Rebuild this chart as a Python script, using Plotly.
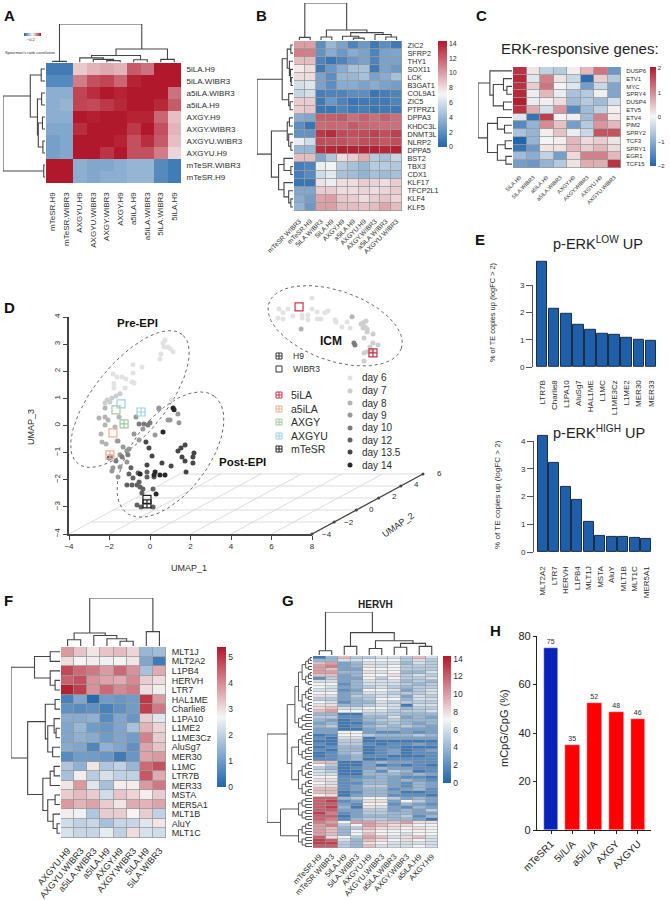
import math
import plotly.graph_objects as go

W, H = 670, 900
FONT = "Liberation Sans"
INK = "#2c2c2c"
DIVERGING = [[0, "#2166ac"], [0.5, "#f6f6f6"], [1, "#b2182b"]]

# ---------- Panel A ----------
A_COLS = ["mTeSR.H9", "mTeSR.WIBR3", "AXGYU.H9", "AXGYU.WIBR3", "AXGY.WIBR3", "AXGY.H9", "a5iLA.H9", "a5iLA.WIBR3", "5iLA.WIBR3", "5iLA.H9"]
A_ROWS = ["5iLA.H9", "5iLA.WIBR3", "a5iLA.WIBR3", "a5iLA.H9", "AXGY.H9", "AXGY.WIBR3", "AXGYU.WIBR3", "AXGYU.H9", "mTeSR.WIBR3", "mTeSR.H9"]
A_Z = [
    [-.85, -.85, .2, .3, .35, .3, .7, .6, 1, 1],
    [-.75, -.75, .55, .75, .8, .65, .95, 1, 1, 1],
    [-.5, -.5, .8, .9, 1, .95, 1, 1, 1, .6],
    [-.5, -.45, .8, .78, .85, .93, 1, 1, .93, .7],
    [-.5, -.5, 1, .97, 1, 1, .95, .95, .65, .25],
    [-.55, -.55, .9, 1, 1, 1, .85, 1, .75, .3],
    [-.6, -.55, 1, 1, 1, .95, .75, .9, .7, .25],
    [-.6, -.55, 1, 1, .87, 1, .75, .75, .55, .15],
    [1, 1, -.5, -.55, -.55, -.5, -.45, -.45, -.75, -.85],
    [1, 1, -.5, -.55, -.5, -.5, -.45, -.45, -.75, -.85],
]
A_COL_TREE = [1.0, [.03, 0, 1], [.35, [.18, [.12, 2, [.08, 3, [.05, 4, 5]]], [.07, 6, 7]], [.08, 8, 9]]]
A_ROW_TREE = [1, [.35, [.09, 0, 1], [.18, [.08, 2, 3], [.16, [.06, 4, 5], [.05, 6, 7]]]], [.03, 8, 9]]

# ---------- Panel B ----------
B_COLS = ["mTeSR.WIBR3", "mTeSR.H9", "5iLA.WIBR3", "5iLA.H9", "AXGY.H9", "a5iLA.H9", "AXGYU.H9", "AXGY.WIBR3", "a5iLA.WIBR3", "AXGYU.WIBR3"]
B_ROWS = ["ZIC2", "SFRP2", "THY1", "SOX11", "LCK", "B3GAT1", "COL9A1", "ZIC5", "PTPRZ1", "DPPA3", "KHDC3L", "DNMT3L", "NLRP2", "DPPA5", "BST2", "TBX3", "CDX1", "KLF17", "TFCP2L1", "KLF4", "KLF5"]
B_Z = [
    [10, 10, 2, 4, 3, 1.5, 2.5, 1, 2, 1],
    [11, 11, 2.2, 3.5, 2.5, 3.5, 3, 1.5, 3, 3.2],
    [9, 9, 1.5, .8, 1.5, 2.5, 3, 1.5, 3, 3],
    [7.5, 8, 1, 2.5, 3.5, 4.5, 4.5, 1, 3, 2.5],
    [8, 8, 3, 2, 4, 4, 4.5, 3, 3.5, 4.5],
    [6, 6.3, 3, 2, 3.5, 3.5, 3, 3.5, 3, 2.8],
    [5.5, 6, 1.2, 1.5, 1.5, 2, 2, .8, 1.2, 1.5],
    [8.5, 8.5, 1, 2.5, 1.5, .8, 1, 1, 1, 1.5],
    [8.5, 8.7, .8, .8, 1.5, 1, 1.2, .8, 1, 1],
    [3.5, 3.2, 12, 12, 12.2, 11.5, 12, 11.5, 12, 11.5],
    [2, .8, 11.7, 11.8, 11.7, 12.2, 11.8, 11.7, 11.5, 11.5],
    [2.2, 2.2, 13.3, 13.7, 12.7, 12.6, 12.7, 13, 12.6, 13],
    [6.7, 5.8, 12.7, 12.5, 12.5, 12.2, 12.6, 12.7, 12.3, 12.6],
    [4, 4, 13.6, 13.8, 14, 14, 14, 14, 13.8, 14],
    [9, 9, 3.2, 4.8, 8, 8.5, 9.5, 5, 4.5, 5.5],
    [1.2, 1.5, 6.8, 7, 5, 4.5, 4, 5, 5, 4.8],
    [1.2, 1.8, 5.8, 6.5, 4.5, 4.3, 3.8, 4.5, 4.2, 4.5],
    [.8, .8, 7.8, 6.8, 8, 8, 8.5, 8.3, 8, 8.5],
    [3.3, 3.2, 8.5, 8.5, 8, 8, 8.3, 8, 8.2, 8.5],
    [3.5, 2.8, 9.8, 10, 8.7, 8.5, 8, 8.5, 8.7, 8.2],
    [3.8, 2.5, 10, 10, 9, 9, 8.8, 9, 9.7, 9],
]
B_COL_TREE = [1, [.07, 0, 1], [.27, [.08, 2, 3], [.2, [.1, 4, [.05, 5, 6]], [.15, 7, [.08, 8, 9]]]]]
B_ROW_TREE = [1, [.3, [.16, [.06, 0, 1], [.1, 2, [.07, 3, [.05, 4, 5]]]], [.12, 6, [.08, 7, 8]]],
              [.6, [.16, [.1, 9, 10], [.12, 11, [.06, 12, 13]]],
               [.4, [.25, 14, [.06, 15, 16]], [.25, 17, [.12, 18, [.06, 19, 20]]]]]]

# ---------- Panel C ----------
C_COLS = ["5iLA.H9", "5iLA.WIBR3", "a5iLA.H9", "a5iLA.WIBR3", "AXGY.H9", "AXGY.WIBR3", "AXGYU.H9", "AXGYU.WIBR3"]
C_ROWS = ["DUSP6", "ETV1", "MYC", "SPRY4", "DUSP4", "ETV5", "ETV4", "PIM2", "SPRY2", "TCF3", "SPRY1", "EGR1", "TCF15"]
C_Z = [
    [1.8, .2, -.5, -.6, .1, .6, 1.2, -1.3],
    [1.9, -.2, 1.1, .2, -.4, -1.9, .4, -.6],
    [1.8, .4, 1.2, 0, -.2, -1.2, -.4, -1.1],
    [1.9, -.1, .6, -.1, -.7, -.6, .1, -1.1],
    [2, -.1, .1, .25, -.8, -.6, -.8, -.3],
    [1.8, .7, -.3, .9, -1.5, -.8, -.5, .1],
    [-.2, -1.8, 1.7, 0, .1, -.8, 1.1, .15],
    [-1.5, -.9, 1, .5, -1.2, -.6, .9, .6],
    [-.7, -.9, .1, .5, -.1, -.4, 1.5, 1.5],
    [-2, -.9, 0, .1, .6, .3, .4, .2],
    [-1.8, -1.3, .2, .2, .6, .4, .6, .3],
    [-.8, -1, -.5, -1.2, .3, 1.1, 1.1, .6],
    [-1.2, -1.3, -.9, -.6, .2, .7, .7, 1.8],
]
C_ROW_TREE = [1, [.65, 0, [.55, [.25, 1, [.15, 2, 3]], [.25, 4, 5]]],
              [.72, [.43, 6, [.22, 7, 8]], [.43, [.2, 9, 10], [.18, 11, 12]]]]

# ---------- Panel D (UMAP units on the projected plane) ----------
DAY_NAMES = ["day 6", "day 7", "day 8", "day 9", "day 10", "day 12", "day 13.5", "day 14"]
DAY_COLORS = ["#e2e2e2", "#cdcdcd", "#b4b4b4", "#989898", "#7c7c7c", "#626262", "#474747", "#282828"]
DAY6_X = [.74, .64, .89, .69, 1.14, .99, .54, .49, -.40, -.84, -.84, -1.83, -1.63, -1.38, -1.19, -1.78, -1.23, -.89, -.79, -1.78, 1.04,
          6.37, 6.57, 6.81, 6.32, 6.57, 7.06, 7.51, 7.51, 8.0, 8.0, 8.25, 7.80, 7.80, 8.25, 8.44, 8.64, 8.79, 9.14, 9.19, 9.48, 9.73, 9.88]
DAY6_Y = [3.16, 3.05, 2.90, 2.90, 2.72, 2.83, 2.64, 2.46, 2.16, 2.24, 1.94, 1.90, 1.79, 1.79, 1.72, 1.54, 1.39, 1.61, 1.57, 1.39, .94,
          4.30, 4.16, 4.30, 3.97, 3.93, 4.04, 4.08, 3.97, 4.71, 4.30, 4.19, 4.08, 3.90, 3.93, 3.93, 4.16, 4.23, 3.90, 3.82, 3.64, 3.82, 3.60]
DAY7_X = [-1.48, -1.68, -1.88, -2.12, -2.22, -1.98, 10.67, 10.52, 10.42, 10.62, 10.52, 10.72, 10.72, 11.01, 10.57, 11.01, 11.26, 10.86, 10.96, 10.72, 10.57, 10.57]
DAY7_Y = [1.17, 1.09, 1.02, .94, .83, .87, 3.86, 3.79, 3.75, 3.64, 3.60, 3.56, 3.45, 3.38, 3.23, 3.05, 2.97, 2.90, 2.75, 2.72, 2.68, 2.38]
DAY8_X = [-2.52, -2.22, -2.07, -2.22, -1.73, -2.42, -1.63, -2.37, -2.17, -2.22, -1.53, 9.98, 7.46]
DAY8_Y = [.28, .32, .21, .02, -.05, -.31, -.57, -.61, -.68, .65, .32, 4.01, 3.56]
DAY9_X = [-.69, .44, -1.33, -.79, -1.58, -1.04, -1.14, -1.48, -1.93, -1.14, -1.48, -1.83, -1.88, -1.58, -.54, .25, -.35, .89, .99, 1.43, 1.38, .44]
DAY9_Y = [.32, .65, -.79, -.31, -.57, -.86, -.93, -1.08, -1.16, -1.34, -1.53, -1.56, -1.68, -1.90, -.53, -.35, -.13, .21, .21, .10, .43, .61]
DAY10_X = [-.54, -.30, -.10, -1.68, -1.38, 10.07, 10.12, -1.09, 0]
DAY10_Y = [.06, .06, .02, -1.31, -1.16, 3.05, 2.97, -1.08, .1]
DAY12_X = [-2.02, -.94, -1.04, -.84, -.59, -.54, -.64, -.49, -.35, -1.14, -.89, -.15, .20, -.64, -.44, .15, -.40, .15, -.15]
DAY12_Y = [-1.20, -1.56, -1.79, -1.93, -1.75, -2.08, -2.19, -2.27, -2.34, -2.19, -2.19, -1.90, -1.90, -2.93, -3.00, -3.00, -2.49, -2.34, -1.71]
DAY135_X = [-.20, -.05, .10, 1.38, 1.53, 1.73, 2.17, 2.12, 1.58, 1.73, 2.12, -.15, .59, 1.04, 1.78]
DAY135_Y = [-.61, -.83, -1.12, -.94, -.83, -.72, -1.01, -1.16, -1.16, -1.31, -1.38, -1.45, -1.38, -1.49, -1.71]
DAY14_X = [.64, 1.14, 1.19, .25, .20, .49, .74, .30, -.49]
DAY14_Y = [-.24, .65, .58, -1.71, -1.82, -1.82, -1.82, -2.52, -1.79]
DAY_XS = [DAY6_X, DAY7_X, DAY8_X, DAY9_X, DAY10_X, DAY12_X, DAY135_X, DAY14_X]
DAY_YS = [DAY6_Y, DAY7_Y, DAY8_Y, DAY9_Y, DAY10_Y, DAY12_Y, DAY135_Y, DAY14_Y]
LINE_NAMES = ["5iLA", "a5iLA", "AXGY", "AXGYU", "mTeSR"]
LINE_COLORS = ["#c9304a", "#f3ad96", "#9fcb9f", "#9ccfea", "#222222"]
LINE_WIBR3_X = [7.36, -1.83, -1.68, -1.43, -.15]
LINE_WIBR3_Y = [4.38, -.27, .58, .80, -2.72]
LINE_H9_X = [11.01, -1.98, -1.28, -.44, -.15]
LINE_H9_Y = [2.68, -1.08, .06, .50, -2.89]

# ---------- Panel E ----------
E1_NAMES = ["LTR7B", "Charlie8", "L1PA10", "AluSg7", "HAL1ME", "L1MC", "L1ME3Cz", "L1ME2", "MER30", "MER33"]
E1_VALUES = [3.85, 2.12, 1.95, 1.55, 1.35, 1.2, 1.17, 1.07, .98, .95]
E2_NAMES = ["MLT2A2", "LTR7", "HERVH", "L1PB4", "MLT1J", "MSTA", "AluY", "MLT1B", "MLT1C", "MER5A1"]
E2_VALUES = [4.18, 3.22, 2.33, 1.87, 1.07, .57, .55, .53, .51, .49]

# ---------- Panel F ----------
F_COLS = ["AXGYU.H9", "AXGYU.WIBR3", "a5iLA.WIBR3", "a5iLA.H9", "AXGY.H9", "AXGY.WIBR3", "5iLA.H9", "5iLA.WIBR3"]
F_ROWS = ["MLT1J", "MLT2A2", "L1PB4", "HERVH", "LTR7", "HAL1ME", "Charlie8", "L1PA10", "L1ME2", "L1ME3Cz", "AluSg7", "MER30", "L1MC", "LTR7B", "MER33", "MSTA", "MER5A1", "MLT1B", "AluY", "MLT1C"]
F_Z = [
    [3.8, 3.3, 2.9, 3.3, 3.4, 3.1, 1.5, 1.6],
    [3.0, 2.7, 2.8, 2.6, 2.7, 2.9, 1.2, .4],
    [4.8, 4.4, 4.2, 3.8, 4.4, 3.9, 1.7, 3.6],
    [4.5, 4.7, 3.9, 3.7, 3.6, 4.0, 3.2, 3.0],
    [5.3, 4.9, 3.9, 4.4, 4.0, 4.2, 3.0, 2.8],
    [.5, 1.2, .1, 1.0, .9, 1.0, 5, 3.8],
    [.8, .7, .8, .5, .8, 1.0, 4.9, 4.2],
    [1.3, 1.3, 1.4, .7, 1.2, .9, 3.2, 2.4],
    [1.2, 1.5, 1.0, .9, 1.2, 1.7, 3.5, 3.1],
    [1.2, 1.4, 1.3, 1.0, 1.2, 1.0, 4.1, 3.2],
    [1.3, 1.2, .6, 1.4, 1.2, .8, 3.7, 3.3],
    [.7, 1.0, 1.0, .9, .4, .9, 3.7, 3.8],
    [1.8, 1.4, 2.9, 1.8, 2.0, 1.5, 4.4, 4.7],
    [1.7, 2.8, 1.9, 2.3, 2.0, 2.0, 4.6, 3.6],
    [2.9, 3.8, 2.4, 1.7, 2.8, 2.8, 3.8, 4.2],
    [3.2, 3.4, 3.2, 2.2, 3.3, 3.1, 2.8, 3.2],
    [3.8, 3.5, 3.7, 3.2, 2.9, 3.6, 3.5, 3.7],
    [2.8, 2.6, 1.8, 3.2, 3.2, 2.7, 3.2, 2.0],
    [2.2, 2.0, 2.1, 1.7, 2.1, 2.1, 2.4, 2.9],
    [2.3, 2.1, 2.1, 2.5, 2.0, 3.0, 2.3, 2.2],
]
F_COL_TREE = [1, [.27, [.13, 0, 1], [.22, 2, [.15, 3, [.1, 4, 5]]]], [.3, 6, 7]]
F_ROW_TREE = [1, [.52, [.2, 0, 1], [.2, 2, [.1, 3, 4]]],
              [.66, [.3, [.1, 5, 6], [.25, [.12, 7, [.08, 8, 9]], [.15, 10, 11]]],
               [.35, [.2, [.12, 12, 13], 14], [.25, [.1, 15, 16], [.14, 17, [.06, 18, 19]]]]]]

# ---------- Panel G (one hex digit per cell) ----------
G_COLS = ["mTeSR.H9", "mTeSR.WIBR3", "5iLA.H9", "5iLA.WIBR3", "AXGYU.H9", "AXGYU.WIBR3", "a5iLA.WIBR3", "AXGY.WIBR3", "a5iLA.H9", "AXGY.H9"]
G_CELLS = [
    "1495566596", "4466777565", "9a34666465", "ab34867555", "a933777555", "aa44867446", "9934778565", "2533757556",
    "6634666454", "7724666545", "7634565455", "6623776356", "7734665556", "8635566365", "5534577466", "7624465555",
    "8844566166", "8966776455", "9a77665556", "4411555444", "5522446343", "4312455444", "3411345434", "4512454543",
    "3311344333", "3377322323", "1277544454", "2166133333", "1155111111", "2155212232", "1244122111", "2144123123",
    "1245123122", "1234221112", "2234112222", "9911343322", "7511312121", "5412343322", "6511425412", "6611444343",
    "7722343221", "8823443432", "7622443243", "8823553243", "9923442342", "9912443112", "7813442221", "cc45775343",
    "cd23883753", "cc32772432", "cd41863243", "cc33553435", "db23554433", "cc13444524", "cb24554431", "ba7aa99a88",
    "ab57a98877", "a945988787", "a947877777", "a947977677", "c875a96896", "dc64987876", "dd54876666", "cc54966676",
]
G_Z = [[int(c, 16) for c in row] for row in G_CELLS]
G_COL_TREE = [1, [.1, 0, 1], [.52, [.2, 2, 3], [.33, [.15, 4, 5], [.27, [.18, 6, 7], [.2, 8, 9]]]]]
G_BLOCK_EDGES = [0, 19, 25, 35, 47, 55, 64]
G_BLOCK_HEIGHTS = [.3, .22, .14, .08, .04, .02]

# ---------- Panel H ----------
H_NAMES = ["mTeSR1", "5i/L/A", "a5i/L/A", "AXGY", "AXGYU"]
H_VALUES = [75, 35.2, 52.4, 48.5, 45.8]
H_LABELS = ["75", "35", "52", "48", "46"]
H_COLORS = ["#0a22b8", "#ff0000", "#ff0000", "#ff0000", "#ff0000"]

# ---------- helpers ----------
fig = go.Figure()
axis_no = [1]
annotations, shapes = [], []


def xd(a, b):
    return [a / W, b / W]


def yd(top, bottom):
    return [1 - bottom / H, 1 - top / H]


HIDE = dict(visible=False, showgrid=False, zeroline=False, fixedrange=True)


def axes(box, xkw, ykw):
    axis_no[0] += 1
    i = axis_no[0]
    x0, x1, y0, y1 = box
    fig.update_layout(**{
        f"xaxis{i}": {"domain": xd(x0, x1), "anchor": f"y{i}", **xkw},
        f"yaxis{i}": {"domain": yd(y0, y1), "anchor": f"x{i}", **ykw},
    })
    return f"x{i}", f"y{i}"


def text(x, y, s, size=9, color=INK, bold=False, xanchor="center", angle=0):
    annotations.append(dict(x=x / W, y=1 - y / H, xref="paper", yref="paper", text=f"<b>{s}</b>" if bold else s,
                            showarrow=False, font=dict(size=size, color=color, family=FONT), xanchor=xanchor,
                            yanchor="middle", textangle=angle))


def tree_lines(node, xs, ys):
    if not isinstance(node, list):
        return node, 0
    h, left, right = node
    p1, h1 = tree_lines(left, xs, ys)
    p2, h2 = tree_lines(right, xs, ys)
    xs += [p1, p1, p2, p2, None]
    ys += [h1, h, h, h2, None]
    return (p1 + p2) / 2, h


def top_dendro(tree, n, box, width=1.1):
    xa, ya = axes(box, dict(range=[-.5, n - .5], **HIDE), dict(range=[0, 1], **HIDE))
    xs, ys = [], []
    tree_lines(tree, xs, ys)
    fig.add_trace(go.Scatter(x=xs, y=ys, xaxis=xa, yaxis=ya, mode="lines", cliponaxis=False,
                             line=dict(color="#444444", width=width), hoverinfo="skip"))


def left_dendro(tree, n, box, width=1.1):
    xa, ya = axes(box, dict(range=[1, 0], **HIDE), dict(range=[n - .5, -.5], **HIDE))
    xs, ys = [], []
    tree_lines(tree, xs, ys)
    fig.add_trace(go.Scatter(x=ys, y=xs, xaxis=xa, yaxis=ya, mode="lines", cliponaxis=False,
                             line=dict(color="#444444", width=width), hoverinfo="skip"))


def heat(z, cols, rows, box, zmin, zmax, cbar, col_angle, col_size, row_size, gap=1.0, ygap=None, gapcolor="#9a9a9a", col_len=3):
    xkw = dict(tickmode="array", tickvals=list(range(len(cols))), ticktext=cols, tickangle=col_angle,
               tickfont=dict(size=col_size, color=INK), ticks="outside", ticklen=col_len, tickcolor="rgba(0,0,0,0)",
               showgrid=False, zeroline=False, showline=False, range=[-.5, len(cols) - .5])
    ykw = dict(showgrid=False, zeroline=False, showline=False, range=[len(z) - .5, -.5])
    if rows:
        ykw.update(side="right", tickmode="array", tickvals=list(range(len(rows))), ticktext=rows,
                   tickfont=dict(size=row_size, color=INK), ticks="outside", ticklen=3, tickcolor="rgba(0,0,0,0)")
    else:
        ykw.update(showticklabels=False, ticks="")
    xa, ya = axes(box, xkw, ykw)
    fig.add_trace(go.Heatmap(z=z, x=list(range(len(cols))), y=list(range(len(z))), xaxis=xa, yaxis=ya, zmin=zmin, zmax=zmax,
                             colorscale=DIVERGING, xgap=gap, ygap=gap if ygap is None else ygap, hoverinfo="skip",
                             colorbar=cbar, showscale=True))
    if gap:
        shapes.append(dict(type="rect", xref=f"{xa} domain", yref=f"{ya} domain", x0=0, x1=1, y0=0, y1=1, layer="below",
                           fillcolor=gapcolor, line=dict(width=0)))
    return xa, ya


def vbar(x0, x1, y0, y1, vals, size, tick_vals=None):
    d = dict(orientation="v", x=x0 / W, xanchor="left", xpad=0, y=1 - y0 / H, yanchor="top", ypad=0, len=y1 - y0,
             lenmode="pixels", thickness=x1 - x0, thicknessmode="pixels", outlinewidth=0, ticks="", tickvals=vals,
             tickfont=dict(size=size, color=INK, family=FONT), ticklabelposition="outside")
    return d


# ---------- A ----------
A_KEY = dict(orientation="h", x=24 / W, xanchor="left", xpad=0, y=1 - 33 / H, yanchor="top", ypad=0, len=17, lenmode="pixels",
             thickness=3, thicknessmode="pixels", outlinewidth=0, ticks="", tickvals=[-.2], ticklabelposition="outside",
             tickfont=dict(size=4, color=INK, family=FONT))
heat(A_Z, A_COLS, A_ROWS, (46, 181, 63, 183), -1, 1, A_KEY, -90, 8, 8, gap=0, col_len=5)
top_dendro(A_COL_TREE, 10, (46, 181, 24, 62.5))
left_dendro(A_ROW_TREE, 10, (3, 45, 63, 183))
text(3, 52, "Spearman's rank correlation", size=4, xanchor="left")

# ---------- B ----------
heat(B_Z, B_COLS, B_ROWS, (294, 402, 41, 211), 0, 14.3, vbar(438, 447, 41, 147, [0, 2, 4, 6, 8, 10, 12, 14], 7), -45, 6.6, 7.3, gap=.8)
top_dendro(B_COL_TREE, 10, (294, 402, 3, 40))
left_dendro(B_ROW_TREE, 21, (257, 293, 41, 211))

# ---------- C ----------
heat(C_Z, C_COLS, C_ROWS, (513, 621, 67, 168), -2, 2.05, vbar(650, 656, 67, 166, [-2, -1, 0, 1, 2], 6), -45, 5.5, 6, gap=.8)
left_dendro(C_ROW_TREE, 13, (478, 512, 67, 168))
text(580, 49, "ERK-responsive genes:", size=15, color="#222222")

# ---------- D ----------
DX_UNIT, DY_UNIT = 20.25, 27.1
AX = dict(showgrid=False, zeroline=False, showline=True, linecolor="#444444", linewidth=1.5, ticks="outside",
          ticklen=4, tickcolor="#444444", tickfont=dict(size=8, color=INK), fixedrange=True)
txa, tya = axes((69, 312, 317, 534), dict(range=[-4, 8], tickmode="array", tickvals=[-4, -2, 0, 2, 4, 6, 8], **AX),
                dict(range=[-4, 4], tickmode="array", tickvals=[-4, -3, -2, -1, 0, 1, 2, 3, 4], tickangle=-90, **AX))
fig.add_trace(go.Scatter(x=[0], y=[0], xaxis=txa, yaxis=tya, mode="markers", marker=dict(opacity=0), hoverinfo="skip"))
dxa, dya = axes((69, 440, 280, 534), dict(range=[-4, 14.32], **HIDE), dict(range=[-4, 5.37], **HIDE))


def proj(u1, u2):
    return u1 + (u2 + 4) * .548, -4 + (u2 + 4) * .2214


gx, gy = [], []
for u1 in [-4, -2, 0, 2, 4, 6, 8]:
    a, b = proj(u1, -4), proj(u1, 6)
    gx += [a[0], b[0], None]
    gy += [a[1], b[1], None]
for u2 in [-2, 0, 2, 4, 6]:
    a, b = proj(-4, u2), proj(8, u2)
    gx += [a[0], b[0], None]
    gy += [a[1], b[1], None]
fig.add_trace(go.Scatter(x=gx, y=gy, xaxis=dxa, yaxis=dya, mode="lines", cliponaxis=False, line=dict(color="#dcdcdc", width=1), hoverinfo="skip"))
depth_ticks = [-4, -2, 0, 2, 4, 6]
fig.add_trace(go.Scatter(x=[proj(8, d)[0] for d in depth_ticks], y=[proj(8, d)[1] for d in depth_ticks], xaxis=dxa, yaxis=dya,
                         mode="lines+markers", cliponaxis=False, line=dict(color="#444444", width=1.3),
                         marker=dict(size=3, color="#444444"), hoverinfo="skip"))

ELLIPSES = [(-.99, .98, 83, 36, 51), (1.01, -1.07, 73, 38, 53), (9.14, 3.68, 70, 35, -19)]
for cu, cv, a, b, deg in ELLIPSES:
    th = math.radians(deg)
    ts = [i * 2 * math.pi / 120 for i in range(121)]
    ex = [cu + (a * math.cos(t) * math.cos(th) - b * math.sin(t) * math.sin(th)) / DX_UNIT for t in ts]
    ey = [cv + (a * math.cos(t) * math.sin(th) + b * math.sin(t) * math.cos(th)) / DY_UNIT for t in ts]
    fig.add_trace(go.Scatter(x=ex, y=ey, xaxis=dxa, yaxis=dya, mode="lines", cliponaxis=False,
                             line=dict(color="#666666", width=1, dash="dot"), hoverinfo="skip"))
for xs_, ys_, c in zip(DAY_XS, DAY_YS, DAY_COLORS):
    fig.add_trace(go.Scatter(x=xs_, y=ys_, xaxis=dxa, yaxis=dya, mode="markers", cliponaxis=False,
                             marker=dict(size=5, color=c, line=dict(width=0)), hoverinfo="skip"))
fig.add_trace(go.Scatter(x=LINE_WIBR3_X, y=LINE_WIBR3_Y, xaxis=dxa, yaxis=dya, mode="markers", cliponaxis=False,
                         marker=dict(size=8, symbol="square-open", color=LINE_COLORS, line=dict(width=1.2, color=LINE_COLORS)), hoverinfo="skip"))
fig.add_trace(go.Scatter(x=LINE_H9_X, y=LINE_H9_Y, xaxis=dxa, yaxis=dya, mode="markers", cliponaxis=False,
                         marker=dict(size=8, symbol="square-cross-open", color=LINE_COLORS, line=dict(width=1.2, color=LINE_COLORS)), hoverinfo="skip"))

# legend keys on a page-sized overlay
lxa, lya = axes((0, W, 0, H), dict(range=[0, W], **HIDE), dict(range=[H, 0], **HIDE))
for y_, sym, name in [(356, "square-cross-open", "H9"), (369, "square-open", "WIBR3")]:
    fig.add_trace(go.Scatter(x=[279], y=[y_], xaxis=lxa, yaxis=lya, mode="markers", hoverinfo="skip",
                             marker=dict(size=6, symbol=sym, color="#333333", line=dict(width=1, color="#333333"))))
    text(291, y_, name, size=8.5, xanchor="left")
for y_, name, c in zip([395, 409, 422, 436, 449], LINE_NAMES, LINE_COLORS):
    fig.add_trace(go.Scatter(x=[279], y=[y_], xaxis=lxa, yaxis=lya, mode="markers", hoverinfo="skip",
                             marker=dict(size=6, symbol="square-cross-open", color=c, line=dict(width=1, color=c))))
    text(289, y_, name, size=10.5, xanchor="left")
for y_, name, c in zip([378, 391, 403, 415, 428, 440, 452, 465], DAY_NAMES, DAY_COLORS):
    fig.add_trace(go.Scatter(x=[350], y=[y_], xaxis=lxa, yaxis=lya, mode="markers", hoverinfo="skip",
                             marker=dict(size=5, color=c, line=dict(width=0))))
    text(360, y_, name, size=10, xanchor="left")
text(137, 323, "Pre-EPI", size=11.5, color="#111111", bold=True)
text(331, 341, "ICM", size=12, color="#111111", bold=True)
text(217, 462, "Post-EPI", size=11.5, color="#111111", bold=True, xanchor="left")
text(31, 427, "UMAP_3", size=9, angle=-90)
text(189, 568, "UMAP_1", size=9)
text(398, 525, "UMAP_2", size=9, angle=-35)
for lab, lx, ly in zip(["−4", "−2", "0", "2", "4", "6"], [327, 349, 371, 394, 416, 439], [534, 522, 509, 497, 484, 473]):
    text(lx, ly, lab, size=8)


# ---------- E ----------
def te_bars(names, vals, x0, x1, y_base, unit, top_val, data_top, axis_x, ticks, lab_len):
    xa, ya = axes((x0, x1, y_base - data_top * unit, y_base),
                  dict(range=[-.5, 9.5], tickmode="array", tickvals=list(range(10)), ticktext=names, tickangle=-90,
                       tickfont=dict(size=8, color=INK), ticks="outside", ticklen=lab_len, tickcolor="rgba(0,0,0,0)",
                       showgrid=False, zeroline=False, showline=False, fixedrange=True),
                  dict(range=[0, data_top], **HIDE))
    fig.add_trace(go.Bar(x=list(range(10)), y=vals, xaxis=xa, yaxis=ya, width=.88, cliponaxis=False, hoverinfo="skip",
                         marker=dict(color="#1f5fa9", line=dict(color="#1d2d44", width=1))))
    tx, ty = axes((x0, x1, y_base - top_val * unit, y_base), dict(range=[-.5, 9.5], **HIDE),
                  dict(range=[0, top_val], tickmode="array", tickvals=ticks, tickfont=dict(size=8, color=INK), ticks="outside",
                       ticklen=6, tickcolor="#555555", showgrid=False, zeroline=False, showline=True, linecolor="#555555",
                       linewidth=1, anchor="free", position=axis_x / W, fixedrange=True))
    fig.add_trace(go.Scatter(x=[0], y=[0], xaxis=tx, yaxis=ty, mode="markers", marker=dict(opacity=0), hoverinfo="skip"))


te_bars(E1_NAMES, E1_VALUES, 536, 657, 367, 27.3, 3, 4, 532, [0, 1, 2, 3], 9)
te_bars(E2_NAMES, E2_VALUES, 537, 652, 552, 27.75, 4, 4.4, 533, [0, 1, 2, 3, 4], 10)
text(598, 243, "p-ERK<sup>LOW</sup> UP", size=14.5, color="#222222")
text(599, 432, "p-ERK<sup>HIGH</sup> UP", size=14.5, color="#222222")
text(493, 313, "% of TE copies up (logFC &gt; 2)", size=7.4, angle=-90)
text(497, 495, "% of TE copies up (logFC &gt; 2)", size=8.1, angle=-90)

# ---------- F ----------
heat(F_Z, F_COLS, F_ROWS, (61, 166, 647, 838), 0, 5.38, vbar(217, 226, 647, 787, [0, 1, 2, 3, 4, 5], 8.5), -50, 9, 9, gap=.8)
top_dendro(F_COL_TREE, 8, (61, 166, 598, 646))
left_dendro(F_ROW_TREE, 20, (11, 60, 647, 838))

# ---------- G ----------
heat(G_Z, G_COLS, None, (313, 438, 656, 848), 0, 14.3, vbar(443, 451, 656, 783, [0, 2, 4, 6, 8, 10, 12, 14], 8.5), -47, 7.8, 9, gap=.7, ygap=.5, col_len=0)
top_dendro(G_COL_TREE, 10, (313, 438, 612, 655))


def balanced(a, b, hs):
    if b - a == 1:
        return a
    m = (a + b + 1) // 2
    rest = hs[1:] if len(hs) > 1 else hs
    return [hs[0], balanced(a, m, rest), balanced(m, b, rest)]


G_B = [balanced(a, b, G_BLOCK_HEIGHTS) for a, b in zip(G_BLOCK_EDGES, G_BLOCK_EDGES[1:])]
G_ROW_TREE = [1, [.55, [.38, G_B[0], G_B[1]], [.45, G_B[2], G_B[3]]], [.7, G_B[4], G_B[5]]]
left_dendro(G_ROW_TREE, 64, (267, 312, 656, 848), width=.9)
text(375.5, 604, "HERVH", size=10, color="#222222", bold=True)

# ---------- H ----------
hxa, hya = axes((537, 651, 636, 830),
                dict(range=[-.645, 4.6], tickmode="array", tickvals=list(range(5)), ticktext=H_NAMES, tickangle=-45,
                     tickfont=dict(size=10, color="#222222"), ticks="outside", ticklen=3, tickcolor="#222222", showgrid=False,
                     zeroline=False, showline=True, linecolor="#222222", linewidth=1.3, fixedrange=True),
                dict(range=[0, 80], tickmode="array", tickvals=[0, 20, 40, 60, 80], tickfont=dict(size=11, color="#222222"),
                     ticks="outside", ticklen=3, tickcolor="#222222", showgrid=False, zeroline=False, showline=True,
                     linecolor="#222222", linewidth=1.3, fixedrange=True))
fig.add_trace(go.Bar(x=list(range(5)), y=H_VALUES, xaxis=hxa, yaxis=hya, width=.68, marker=dict(color=H_COLORS), text=H_LABELS,
                     textposition="outside", textfont=dict(size=7, color=INK), cliponaxis=False, hoverinfo="skip"))
text(504, 728, "mCpG/CpG (%)", size=11, color="#222222", angle=-90)

# ---------- panel letters ----------
for s, x_, y_ in [("A", 9, 15), ("B", 261, 15), ("C", 481, 15), ("D", 9, 307), ("E", 480, 240), ("F", 8, 600), ("G", 288, 600), ("H", 495, 630)]:
    text(x_, y_, s, size=15, color="#111111", bold=True)

fig.update_layout(width=W, height=H, autosize=False, margin=dict(l=0, r=0, t=0, b=0, pad=0, autoexpand=False), showlegend=False,
                  plot_bgcolor="rgba(0,0,0,0)", paper_bgcolor="white", font=dict(family=FONT, color=INK),
                  annotations=annotations, shapes=shapes, bargap=0)
fig.write_html("out.html", config=dict(displayModeBar=False),
               post_script="document.body.style.margin='0';document.body.style.overflow='hidden';")
